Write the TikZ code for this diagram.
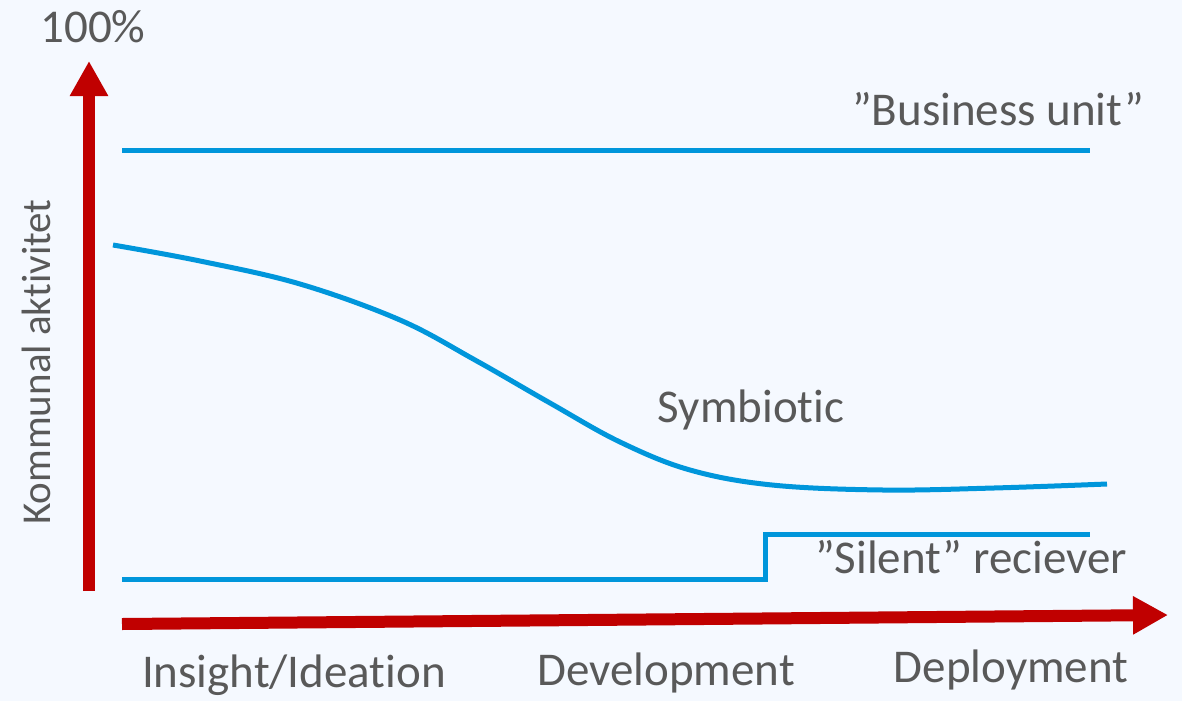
\documentclass[tikz,border=0pt]{standalone}
\usepackage{fontspec}
\setmainfont{Carlito}[Ligatures=NoCommon]
\usetikzlibrary{arrows.meta}
\definecolor{bgc}{HTML}{F5F9FF}
\definecolor{axisred}{HTML}{C00000}
\definecolor{lineblue}{HTML}{0096DB}
\definecolor{txtgray}{HTML}{595959}
\tikzset{
  axisarrow/.style={draw=axisred, line width=12pt, -{Triangle[length=35pt,width=36pt]}},
  curveline/.style={draw=lineblue, line width=5pt},
  lbl/.style={text=txtgray, inner sep=0pt, anchor=base, font=\fontsize{47}{56}\selectfont},
  ylbl/.style={text=txtgray, inner sep=0pt, anchor=base, rotate=90, font=\fontsize{41}{50}\selectfont}
}
\begin{document}
\begin{tikzpicture}[x=1pt,y=-1pt]
\fill[bgc] (0,0) rectangle (1182,701);
\useasboundingbox (0,0) rectangle (1182,701);
% axes
\coordinate (yb) at (89,591);
\coordinate (yt) at (89,61);
\coordinate (xl) at (122,624);
\coordinate (xr) at (1168,615);
\draw[axisarrow] (yb) -- (yt);
\draw[axisarrow] (xl) -- (xr);
% business unit line
\coordinate (b1) at (122,150);
\coordinate (b2) at (1090,150);
\draw[curveline] (b1) -- (b2);
% silent receiver step line
\coordinate (s1) at (122,579);
\coordinate (s2) at (765,579);
\coordinate (s3) at (765,534);
\coordinate (s4) at (1090,534);
\draw[curveline, line join=miter] (s1) -- (s2) -- (s3) -- (s4);
% symbiotic curve
\draw[curveline] plot[smooth, tension=0.6] coordinates {
  (113,245) (200,261) (300,284) (400,320) (475,360) (550,403)
  (620,442) (690,470) (772,485) (883,490) (994,488) (1107,484)};
% labels
\node[lbl] (top) at (93,42) {100\%};
\node[lbl] (bu) at (998,125) {”Business unit”};
\node[lbl] (sym) at (751,422) {Symbiotic};
\node[lbl] (sil) at (971,573) {”Silent” reciever};
\node[lbl] (ins) at (294,687) {Insight/Ideation};
\node[lbl] (dev) at (666,685) {Development};
\node[lbl] (dep) at (1011,682) {Deployment};
\node[ylbl] (ka) at (50,362) {Kommunal aktivitet};
\end{tikzpicture}
\end{document}
